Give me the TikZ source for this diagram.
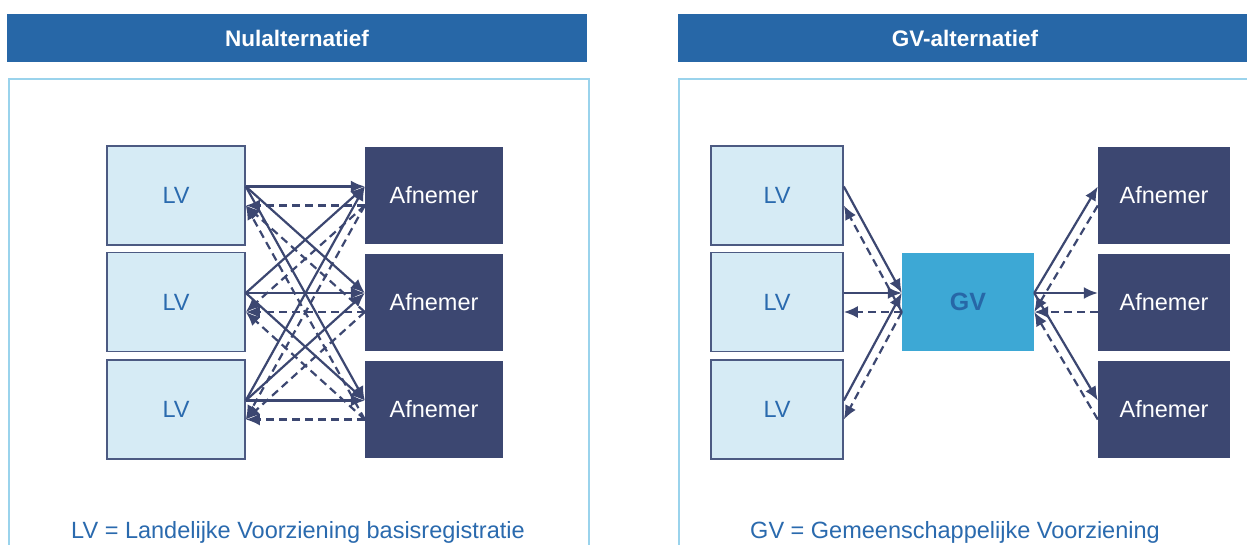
\documentclass[tikz,border=0pt]{standalone}
\usepackage{fontspec}
\setmainfont{Liberation Sans}
\usetikzlibrary{arrows.meta}
\definecolor{hdrblue}{RGB}{39,103,167}
\definecolor{frameblue}{RGB}{154,211,236}
\definecolor{lvfill}{RGB}{214,235,245}
\definecolor{lvborder}{RGB}{76,90,130}
\definecolor{afn}{RGB}{60,71,113}
\definecolor{gvfill}{RGB}{61,168,213}
\definecolor{txtblue}{RGB}{42,106,174}
\tikzset{
  hdr/.style={fill=hdrblue, draw=none, text=white, font=\fontsize{22.5}{24}\selectfont\bfseries, minimum height=48pt, inner sep=0pt},
  panel/.style={draw=frameblue, line width=1.3pt},
  lvbox/.style={fill=lvfill, draw=lvborder, line width=1.6pt, text=txtblue, font=\fontsize{23.5}{25}\selectfont, minimum height=99pt, inner sep=0pt},
  afbox/.style={fill=afn, draw=none, text=white, font=\fontsize{23.5}{25}\selectfont, minimum height=97pt, inner sep=0pt},
  gvbox/.style={fill=gvfill, draw=none, text=hdrblue, font=\fontsize{25}{27}\selectfont\bfseries, minimum width=132pt, minimum height=98pt, inner sep=0pt},
  legend/.style={text=txtblue, font=\fontsize{23.5}{25}\selectfont, anchor=base, inner sep=0pt},
  sol/.style={draw=afn, line width=2.2pt, -{Latex[length=14pt,width=12pt]}},
  dsh/.style={draw=afn, line width=2.2pt, dash pattern=on 8pt off 5pt, -{Latex[length=14pt,width=12pt]}},
}
\begin{document}
\begin{tikzpicture}[x=1pt,y=-1pt]
\useasboundingbox (0,0) rectangle (1247,544);
\clip (0,0) rectangle (1247,544);
\fill[white] (0,0) rectangle (1247,544);
% headers
\node[hdr, minimum width=580pt] (H1) at (297,38) {Nulalternatief};
\node[hdr, minimum width=574pt] (H2) at (965,38) {GV-alternatief};
% panels
\draw[panel] (9,79) rectangle (589,570);
\draw[panel] (679,79) rectangle (1260,570);
% left diagram
\foreach \k/\y in {1/195.5,2/302,3/409.5}{
  \node[lvbox, minimum width=138pt] (L\k) at (176,\y) {LV};
  \node[afbox, minimum width=138pt] (A\k) at (434,\y) {Afnemer};
}
\foreach \i in {1,2,3}{
  \foreach \j in {1,2,3}{
    \draw[sol] ([yshift=9pt]L\i.east) -- ([yshift=9pt]A\j.west);
    \draw[dsh] ([yshift=-10pt]A\j.west) -- ([yshift=-10pt]L\i.east);
  }
}
% right diagram
\foreach \k/\y in {1/195.5,2/302,3/409.5}{
  \node[lvbox, minimum width=132pt] (R\k) at (777,\y) {LV};
  \node[afbox, minimum width=132pt] (B\k) at (1164,\y) {Afnemer};
}
\node[gvbox] (GV) at (968,302) {GV};
\foreach \i in {1,2,3}{
  \draw[sol] ([yshift=9pt]R\i.east) -- ([yshift=9pt]GV.west);
  \draw[dsh] ([yshift=-10pt]GV.west) -- ([yshift=-10pt]R\i.east);
  \draw[sol] ([yshift=9pt]GV.east) -- ([yshift=9pt]B\i.west);
  \draw[dsh] ([yshift=-10pt]B\i.west) -- ([yshift=-10pt]GV.east);
}
% legends
\node[legend] (T1) at (298,538) {LV = Landelijke Voorziening basisregistratie};
\node[legend] (T2) at (955,538) {GV = Gemeenschappelijke Voorziening};
\end{tikzpicture}
\end{document}
